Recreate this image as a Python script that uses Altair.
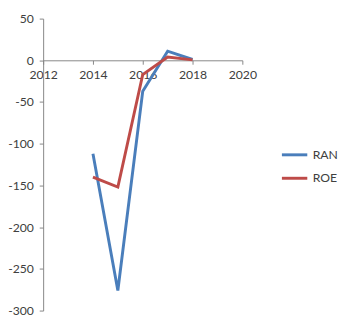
import altair as alt
import pandas as pd

years = [2014, 2015, 2016, 2017, 2018]
ran = [-112, -276, -37, 11, 1]
roe = [-140, -152, -17, 4, 0.5]
series = ["RAN", "ROE"]
colors = ["#4A7EBB", "#BE4B48"]
x_ticks = [2012, 2014, 2016, 2018, 2020]
y_ticks = [-300, -250, -200, -150, -100, -50, 0, 50]

rows = []
for name, vals in zip(series, [ran, roe]):
    for yr, v in zip(years, vals):
        rows.append({"year": yr, "value": v, "series": name})
df = pd.DataFrame(rows)

W, H = 204, 299
ymin, ymax = -300, 50
zero_px = H * (ymax - 0) / (ymax - ymin)
x_offset = -(H - zero_px)

font = "Lato"
lab_color = "#404040"
axis_color = "#868686"

chart = alt.Chart(df).mark_line(strokeWidth=3).encode(
    x=alt.X("year:Q", scale=alt.Scale(domain=[2012, 2020], nice=False),
            axis=alt.Axis(values=x_ticks, format="d", title=None, grid=False,
                          offset=x_offset, tickSize=4, labelPadding=5,
                          labelFlush=False, labelOverlap=False,
                          labelFont=font, labelFontSize=12.5, labelColor=lab_color,
                          domainColor=axis_color, tickColor=axis_color)),
    y=alt.Y("value:Q", scale=alt.Scale(domain=[ymin, ymax], nice=False, zero=False),
            axis=alt.Axis(values=y_ticks, title=None, grid=False, tickSize=4,
                          labelExpr="toString(datum.value)",
                          labelPadding=6, labelFlush=False, labelOverlap=False,
                          labelFont=font, labelFontSize=12.5,
                          labelColor=lab_color, domainColor=axis_color,
                          tickColor=axis_color)),
    color=alt.Color("series:N", scale=alt.Scale(domain=series, range=colors),
                    legend=alt.Legend(title=None, orient="none", legendX=243,
                                      legendY=125, symbolType="stroke",
                                      symbolSize=676, symbolStrokeWidth=3,
                                      labelFont=font, labelFontSize=12.5,
                                      labelColor=lab_color, rowPadding=3,
                                      labelOffset=4)),
    detail="series:N",
).properties(
    width=W, height=H,
    background="white",
    autosize=alt.AutoSizeParams(type="none"),
    padding={"left": 36, "top": 7, "right": 100, "bottom": 15},
).configure_view(stroke="transparent", strokeWidth=0)

chart.save("out.html", embed_options={"renderer": "svg", "actions": False})
